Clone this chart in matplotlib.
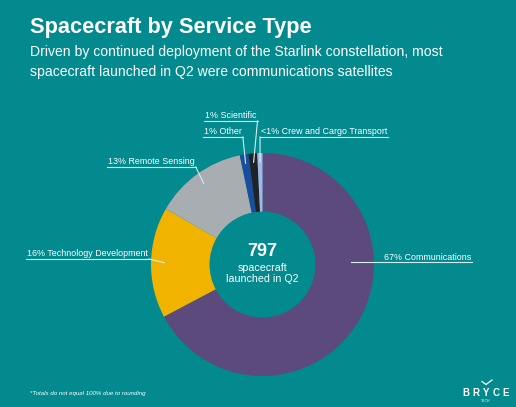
import matplotlib
matplotlib.use("Agg")
import matplotlib.pyplot as plt
import numpy as np

# spacecraft launched in Q2, by service type (counts)
service_types = ['Communications', 'Technology Development', 'Remote Sensing',
                 'Other', 'Scientific', 'Crew and Cargo Transport']
spacecraft_counts = [536, 128, 107, 10, 10, 6]
pct_labels = ['67%', '16%', '13%', '1%', '1%', '<1%']
slice_colors = ['#5c4a7c', '#f0b400', '#a7adb0', '#1b4d9e', '#1f2327', '#a9b3e6']
total_launched = 797

BG = '#028a8f'
LINE = '#d6eef0'
plt.rcParams['font.family'] = ['Liberation Sans', 'DejaVu Sans']

W, H = 516, 407
fig = plt.figure(figsize=(W / 100, H / 100), dpi=100)
fig.patch.set_facecolor(BG)

# donut axes, centre and radius in pixels
cx, cy, R = 262.5, 264.5, 111.5
ax = fig.add_axes([(cx - R) / W, (H - cy - R) / H, 2 * R / W, 2 * R / H])
wedges, _ = ax.pie(spacecraft_counts, colors=slice_colors, startangle=90,
                   counterclock=False, radius=1,
                   wedgeprops=dict(width=0.525, edgecolor='none'))
# pie resets the limits, so set them afterwards
ax.set_xlim(-1, 1)
ax.set_ylim(-1, 1)
ax.axis('off')

# overlay in pixel coordinates for text and leader lines
ov = fig.add_axes([0, 0, 1, 1], zorder=5)
ov.set_xlim(0, W)
ov.set_ylim(H, 0)
ov.axis('off')
ov.patch.set_alpha(0)

ov.text(30, 28, 'Spacecraft by Service Type', fontsize=15.7, fontweight='bold',
        color='white', va='center', ha='left')
ov.text(30, 52, 'Driven by continued deployment of the Starlink constellation, most',
        fontsize=10.1, color='white', va='center', ha='left')
ov.text(30, 72, 'spacecraft launched in Q2 were communications satellites',
        fontsize=10.1, color='white', va='center', ha='left')

# centre text
ov.text(cx, 252, str(total_launched), fontsize=13, fontweight='bold',
        color='white', ha='center', va='center')
ov.text(cx, 268, 'spacecraft', fontsize=7.7, color='white', ha='center', va='center')
ov.text(cx, 279, 'launched in Q2', fontsize=7.7, color='white', ha='center', va='center')


def wedge_point(w, r, theta=None):
    if theta is None:
        theta = (w.theta1 + w.theta2) / 2
    t = np.radians(theta)
    disp = ax.transData.transform((r * np.cos(t), r * np.sin(t)))
    return ov.transData.inverted().transform(disp)


# label positions: (text x, text y, leader radius)
label_pos = [(384, 257, 0.79), (27, 254, 0.88), (108, 162, 0.9),
             (204, 132, 0.92), (205, 116, 0.92), (261, 132, 0.92)]

fig.canvas.draw()
renderer = fig.canvas.get_renderer()
inv = ov.transData.inverted()
for i, (w, name, pct) in enumerate(zip(wedges, service_types, pct_labels)):
    tx, ty, r = label_pos[i]
    t = ov.text(tx, ty, f'{pct} {name}', fontsize=6.4, color='white',
                ha='left', va='center')
    bb = t.get_window_extent(renderer)
    (x0, y0), (x1, y1) = inv.transform([[bb.x0, bb.y0], [bb.x1, bb.y1]])
    uy = y0 + 0.5
    if i == 0:
        # communications: underline runs straight into the slice
        px, py = wedge_point(w, r, theta=np.degrees(np.arcsin((cy - uy) / (r * R))))
        ov.plot([px, x1 + 1], [uy, uy], color=LINE, lw=0.8)
        continue
    px, py = wedge_point(w, r)
    ov.plot([x0 - 1, x1 + 1], [uy, uy], color=LINE, lw=0.8)
    if i == 5:
        ov.plot([x0 - 1, px], [uy, py], color=LINE, lw=0.8)
    else:
        ov.plot([x1 + 1, px], [uy, py], color=LINE, lw=0.8)

# footnote and logo
ov.text(30, 394, '*Totals do not equal 100% due to rounding', fontsize=4.4,
        style='italic', color='white', ha='left', va='center')
for k, letter in enumerate('BRYCE'):
    ov.text(466 + k * 10, 393, letter, fontsize=7, color='white', ha='center',
            va='center', fontweight='bold')
ov.plot([482, 486, 492], [381.5, 384.5, 380], color='white', lw=0.9)
ov.text(486, 400.5, 'TECH', fontsize=2.5, color='white', ha='center', va='center')

fig.savefig('out.png', dpi=100, facecolor=BG)
